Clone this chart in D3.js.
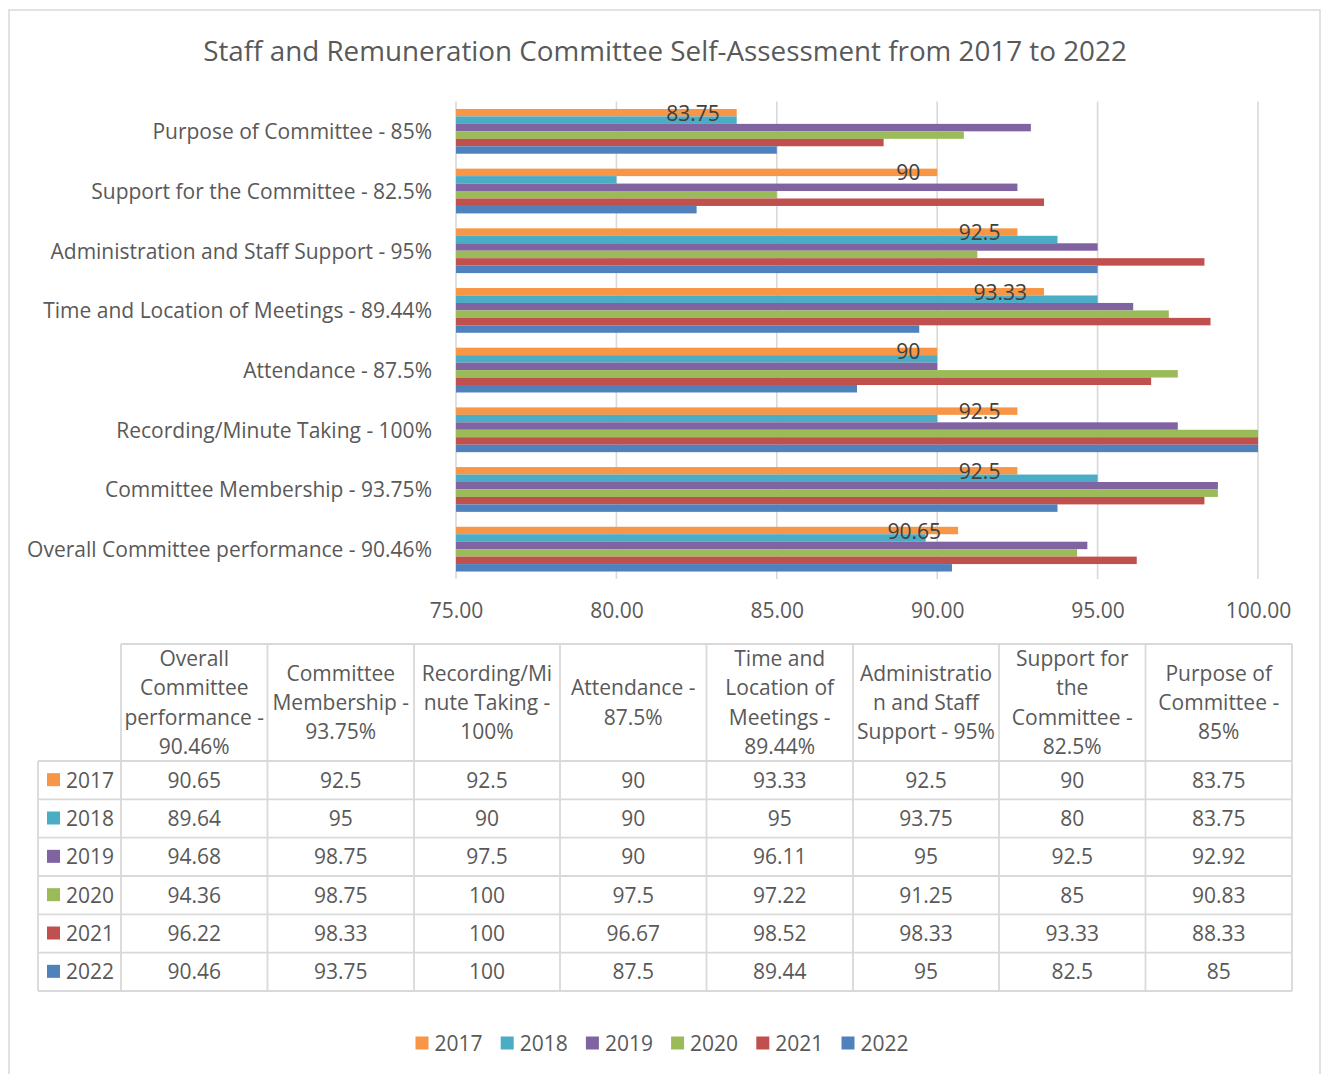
<!DOCTYPE html>
<html>
<head>
<meta charset="utf-8">
<script src="https://cdn.jsdelivr.net/npm/d3@7"></script>
<style>
  html, body { margin: 0; padding: 0; background: #fff; }
  svg { display: block; font-family: "Open Sans", "Noto Sans", sans-serif; }
</style>
</head>
<body>
<svg id="chart" width="1322" height="1074"></svg>
<script>
// ---------- DATA ----------
const title = "Staff and Remuneration Committee Self-Assessment from 2017 to 2022";
const categories = [
  "Overall Committee performance - 90.46%",
  "Committee Membership - 93.75%",
  "Recording/Minute Taking - 100%",
  "Attendance - 87.5%",
  "Time and Location of Meetings - 89.44%",
  "Administration and Staff Support - 95%",
  "Support for the Committee - 82.5%",
  "Purpose of Committee - 85%"
];
const headerLines = [
  ["Overall", "Committee", "performance -", "90.46%"],
  ["Committee", "Membership -", "93.75%"],
  ["Recording/Mi", "nute Taking -", "100%"],
  ["Attendance -", "87.5%"],
  ["Time and", "Location of", "Meetings -", "89.44%"],
  ["Administratio", "n and Staff", "Support - 95%"],
  ["Support for", "the", "Committee -", "82.5%"],
  ["Purpose of", "Committee -", "85%"]
];
const seriesNames = ["2017", "2018", "2019", "2020", "2021", "2022"];
const v2017 = [90.65, 92.5, 92.5, 90, 93.33, 92.5, 90, 83.75];
const v2018 = [89.64, 95, 90, 90, 95, 93.75, 80, 83.75];
const v2019 = [94.68, 98.75, 97.5, 90, 96.11, 95, 92.5, 92.92];
const v2020 = [94.36, 98.75, 100, 97.5, 97.22, 91.25, 85, 90.83];
const v2021 = [96.22, 98.33, 100, 96.67, 98.52, 98.33, 93.33, 88.33];
const v2022 = [90.46, 93.75, 100, 87.5, 89.44, 95, 82.5, 85];
const seriesValues = [v2017, v2018, v2019, v2020, v2021, v2022];
const colors = ["#F79646", "#4BACC6", "#8064A2", "#9BBB59", "#C0504D", "#4F81BD"];
const xTicks = [75, 80, 85, 90, 95, 100];
const labeledSeries = "2017";

// ---------- SETUP ----------
const svg = d3.select("#chart");
const textColor = "#595959";
const gridColor = "#d9d9d9";
const fontSize = 21;

// outer frame
svg.append("rect")
  .attr("x", 9).attr("y", 10).attr("width", 1311).attr("height", 1080)
  .attr("fill", "none").attr("stroke", gridColor).attr("stroke-width", 1.5);

// title
svg.append("text")
  .attr("x", 665).attr("y", 50)
  .attr("text-anchor", "middle").attr("dominant-baseline", "central")
  .attr("fill", textColor).attr("font-size", 27.8)
  .text(title);

// scales
const x = d3.scaleLinear().domain([75, 100]).range([456, 1258]);
const y = d3.scaleBand()
  .domain(categories.slice().reverse())
  .range([101.5, 579])
  .paddingInner(0.25).paddingOuter(0.125);
const ySub = d3.scaleBand().domain(seriesNames).range([0, y.bandwidth()]);

// gridlines
svg.append("g").selectAll("line").data(xTicks).join("line")
  .attr("x1", d => x(d)).attr("x2", d => x(d))
  .attr("y1", 101.5).attr("y2", 579)
  .attr("stroke", gridColor).attr("stroke-width", 1.6);

// x axis labels (using d3 axis, no domain/tick lines)
const xAxis = d3.axisBottom(x).tickValues(xTicks).tickFormat(d3.format(".2f")).tickSize(0).tickPadding(0);
const gx = svg.append("g").attr("transform", "translate(0,610)").call(xAxis);
gx.select(".domain").remove();
gx.selectAll("text")
  .attr("font-family", "\"Open Sans\", sans-serif")
  .attr("font-size", fontSize).attr("fill", textColor)
  .attr("dy", null).attr("y", 0).attr("dominant-baseline", "central");

// category labels via axis
const yAxis = d3.axisLeft(y).tickSize(0).tickPadding(0);
const gy = svg.append("g").attr("transform", "translate(432,0)").call(yAxis);
gy.select(".domain").remove();
gy.selectAll("text")
  .attr("font-family", "\"Open Sans\", sans-serif")
  .attr("font-size", fontSize).attr("fill", textColor)
  .attr("dy", null).attr("x", 0).attr("dominant-baseline", "central");

// bars
const rows = categories.map((c, i) => ({
  cat: c,
  vals: seriesNames.map((s, j) => ({ s, v: seriesValues[j][i], color: colors[j] }))
}));
const groups = svg.append("g").selectAll("g").data(rows).join("g")
  .attr("transform", d => `translate(0,${y(d.cat)})`);
groups.selectAll("rect").data(d => d.vals).join("rect")
  .attr("x", x(75))
  .attr("y", d => ySub(d.s))
  .attr("width", d => x(d.v) - x(75))
  .attr("height", ySub.bandwidth())
  .attr("fill", d => d.color);

// data labels for 2017
groups.selectAll("text.lbl").data(d => d.vals.filter(e => e.s === labeledSeries)).join("text")
  .attr("class", "lbl")
  .attr("x", d => x(d.v) - 17)
  .attr("y", d => ySub(d.s) + ySub.bandwidth() / 2)
  .attr("text-anchor", "end").attr("dominant-baseline", "central")
  .attr("font-size", fontSize).attr("fill", "#404040")
  .text(d => d.v);

// ---------- DATA TABLE ----------
const colEdges = [38, 121, 267.5, 414, 560, 706.5, 853, 999, 1145.5, 1292];
const headerTop = 644, headerBottom = 761;
const rowH = (991 - headerBottom) / seriesNames.length;
const tbl = svg.append("g");
const bc = gridColor, bw = 1.8;

// horizontal lines
tbl.append("line").attr("x1", colEdges[1]).attr("x2", colEdges[9])
  .attr("y1", headerTop).attr("y2", headerTop).attr("stroke", bc).attr("stroke-width", bw);
for (let r = 0; r <= seriesNames.length; r++) {
  const yy = headerBottom + r * rowH;
  tbl.append("line").attr("x1", colEdges[0]).attr("x2", colEdges[9])
    .attr("y1", yy).attr("y2", yy).attr("stroke", bc).attr("stroke-width", bw);
}
// vertical lines
colEdges.forEach((cx, i) => {
  tbl.append("line").attr("x1", cx).attr("x2", cx)
    .attr("y1", i === 0 ? headerBottom : headerTop).attr("y2", 991)
    .attr("stroke", bc).attr("stroke-width", bw);
});

// header text
const lineH = 29.2;
const headerMid = (headerTop + headerBottom) / 2;
headerLines.forEach((lines, i) => {
  const cx = (colEdges[i + 1] + colEdges[i + 2]) / 2;
  const t = tbl.append("text").attr("text-anchor", "middle")
    .attr("font-size", fontSize).attr("fill", textColor);
  lines.forEach((ln, k) => {
    t.append("tspan").attr("x", cx)
      .attr("y", headerMid + (k - (lines.length - 1) / 2) * lineH - 0.5)
      .attr("dominant-baseline", "central")
      .text(ln);
  });
});

// rows
seriesNames.forEach((s, r) => {
  const cy = headerBottom + (r + 0.5) * rowH - 0.5;
  tbl.append("rect").attr("x", 47).attr("y", cy - 6.5).attr("width", 13).attr("height", 13)
    .attr("fill", colors[r]);
  tbl.append("text").attr("x", 66).attr("y", cy).attr("dominant-baseline", "central")
    .attr("font-size", fontSize).attr("fill", textColor).text(s);
  seriesValues[r].forEach((v, c) => {
    const cx = (colEdges[c + 1] + colEdges[c + 2]) / 2;
    tbl.append("text").attr("x", cx).attr("y", cy).attr("text-anchor", "middle")
      .attr("dominant-baseline", "central")
      .attr("font-size", fontSize).attr("fill", textColor).text(v);
  });
});

// ---------- LEGEND ----------
const legend = svg.append("g").selectAll("g").data(seriesNames).join("g")
  .attr("transform", (d, i) => `translate(${415.5 + i * 85.2},1043)`);
legend.append("rect").attr("x", 0).attr("y", -6.5).attr("width", 13).attr("height", 13)
  .attr("fill", (d, i) => colors[i]);
legend.append("text").attr("x", 19).attr("y", 0).attr("dominant-baseline", "central")
  .attr("font-size", fontSize).attr("fill", textColor).text(d => d);
</script>
</body>
</html>
